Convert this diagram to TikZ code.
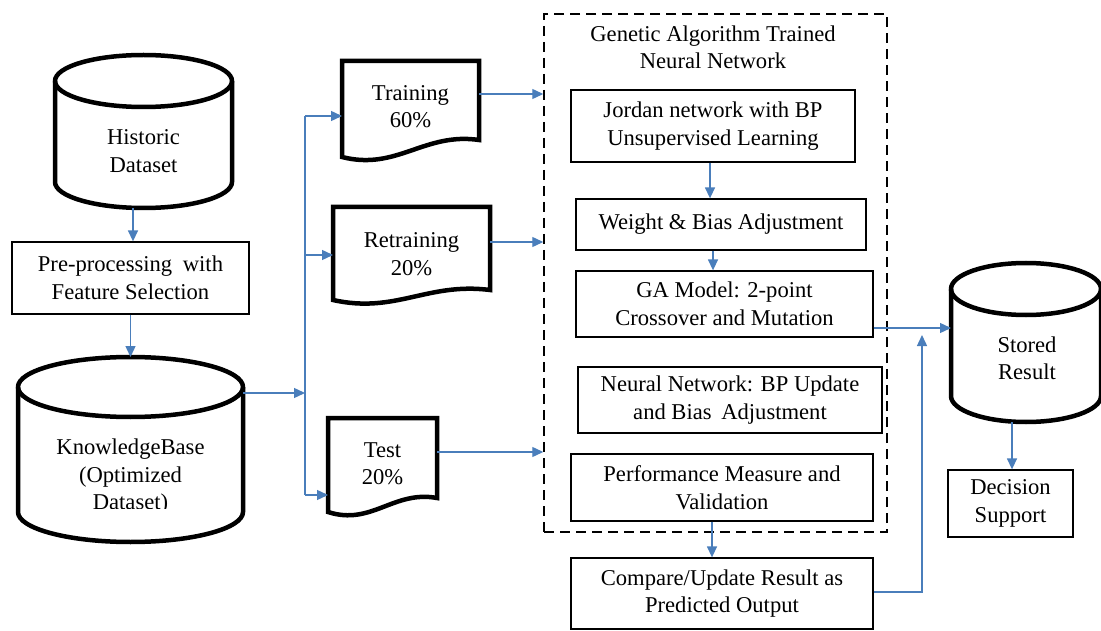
\documentclass[tikz,border=0pt]{standalone}
\usepackage{fontspec}
\setmainfont{Liberation Serif}
\usetikzlibrary{arrows.meta,calc}
\definecolor{arrblue}{HTML}{4A7EBB}
\newcommand\txt{\rmfamily\fontsize{22.6}{27.5}\selectfont}
\newcommand\drawcyl[5]{% cx, top, bottom, rx, ry
  \draw[cylline] ({#1-#4},{-(#2+#5)}) -- ({#1-#4},{-(#3-#5)})
     arc[start angle=180,end angle=360,x radius=#4pt,y radius=#5pt]
     -- ({#1+#4},{-(#2+#5)});
  \draw[cylline] (#1,{-(#2+#5)}) ellipse[x radius=#4pt,y radius=#5pt];
}
\newcommand\docshape[2]{% node name, drop of left corner
  \draw[docline] ($(#1.south west)+(0,-#2)$) -- (#1.north west) -- (#1.north east) -- (#1.south east)
    .. controls ($(#1.south west)!0.6!(#1.south east)+(0,8)$) and ($(#1.south west)!0.4!(#1.south east)+(0,{-#2-14})$) .. cycle;
}
\tikzset{
  arr/.style={draw=arrblue, line width=1.4pt, -{Triangle[length=11pt,width=10pt]}},
  link/.style={draw=arrblue, line width=1.4pt},
  box/.style={draw, line width=1.3pt, inner sep=0pt, align=center, font=\txt},
  ghost/.style={inner sep=0pt, outer sep=0pt},
  lbl/.style={align=center, font=\txt, inner sep=0pt},
  cylline/.style={line width=4.5pt, line join=round},
  docline/.style={line width=4.5pt, line join=miter},
  dashbox/.style={draw, line width=1.5pt, dash pattern=on 10pt off 6pt, inner sep=0pt}
}
\begin{document}
\begin{tikzpicture}[x=1pt,y=1pt]
\useasboundingbox (0,0) rectangle (1101,-631);

% ---------- left column ----------
\node[ghost, minimum width=177pt, minimum height=153pt] (hist) at (143.5,-131.5) {};
\drawcyl{143.5}{55}{208}{88.5}{26}
\node[lbl] (histtxt) at (143.5,-151) {Historic\\Dataset};

\node[box, minimum width=237pt, minimum height=72pt] (pre) at (130.5,-278) {Pre-processing\hspace{5pt} with\\Feature Selection};

\node[ghost, minimum width=225pt, minimum height=185pt] (kb) at (130.5,-449.5) {};
\drawcyl{130.5}{357}{542}{112.5}{30}
\begin{scope}
  \clip (0,0) rectangle (1101,-508);
  \node[lbl] (kbtxt) at (130.5,-477) {KnowledgeBase\\(Optimized\\Dataset)};
\end{scope}

% ---------- data splits ----------
\node[ghost, minimum width=137pt, minimum height=79pt] (train) at (410.5,-100.5) {};
\docshape{train}{17}
\node[lbl] at (410.5,-106.5) {Training\\60\%};

\node[ghost, minimum width=157pt, minimum height=83pt] (retrain) at (411.5,-248.5) {};
\docshape{retrain}{10}
\node[lbl] at (411.5,-254) {Retraining\\20\%};

\node[ghost, minimum width=109pt, minimum height=80pt] (test) at (382.5,-458) {};
\docshape{test}{14}
\node[lbl] at (382.5,-463.5) {Test\\20\%};

% ---------- GA trained NN ----------
\node[dashbox, minimum width=343pt, minimum height=518pt] (nn) at (715.5,-273) {};
\node[lbl] (nntitle) at (713,-47.5) {Genetic Algorithm Trained\\Neural Network};

\node[box, minimum width=284pt, minimum height=72pt] (jordan) at (713,-126) {Jordan network with BP\\Unsupervised Learning};
\node[box, minimum width=290pt, minimum height=51pt] (weight) at (721,-224.5) {Weight \& Bias Adjustment};
\node[box, minimum width=297pt, minimum height=66pt] (gam) at (724.5,-304) {GA Model: 2-point\\Crossover and Mutation};
\node[box, minimum width=304pt, minimum height=66pt] (nnb) at (730,-400) {Neural Network: BP Update\\and Bias\hspace{4pt} Adjustment};
\node[box, minimum width=302pt, minimum height=67pt] (perf) at (722,-487.5) {Performance Measure and\\Validation};
\node[box, minimum width=302pt, minimum height=71pt] (cmp) at (722,-593.5) {Compare/Update Result as\\Predicted Output};

% ---------- right ----------
\node[ghost, minimum width=150pt, minimum height=159pt] (stored) at (1026,-342.5) {};
\drawcyl{1026}{263}{422}{75}{26}
\node[lbl] at (1027,-358.5) {Stored\\Result};

\node[box, minimum width=125pt, minimum height=67pt] (dec) at (1010.5,-503.5) {Decision\\Support};

% ---------- connectors ----------
\coordinate (jt) at (305,-116);
\coordinate (jr) at (305,-255);
\coordinate (jk) at (305,-393);
\coordinate (jb) at (305,-495);
\coordinate (elbow) at (922,-592);
\coordinate (elbowtop) at (922,-335);

\draw[arr] ([xshift=-10.5pt]hist.south) -- ([xshift=-10.5pt]hist.south |- pre.north);
\draw[arr] (pre.south) -- (pre.south |- kb.north);
\draw[arr] (jk -| kb.east) -- (jk);
\draw[link] (jt) -- (jb);
\draw[arr] (jt) -- (jt -| train.west);
\draw[arr] (jr) -- (jr -| retrain.west);
\draw[arr] (jb) -- (jb -| test.west);

\draw[arr] ([yshift=6.5pt]train.east) -- ([yshift=6.5pt]train.east -| nn.west);
\draw[arr] ([yshift=6.5pt]retrain.east) -- ([yshift=6.5pt]retrain.east -| nn.west);
\draw[arr] ([yshift=6pt]test.east) -- ([yshift=6pt]test.east -| nn.west);

\draw[arr] ([xshift=-3pt]jordan.south) -- ([xshift=-3pt]jordan.south |- weight.north);
\draw[arr] ([xshift=-8pt]weight.south) -- ([xshift=-8pt]weight.south |- gam.north);
\draw[arr] ([xshift=-10pt]perf.south) -- ([xshift=-10pt]perf.south |- cmp.north);

\draw[arr] ([yshift=-24pt]gam.east) -- ([yshift=-24pt]gam.east -| stored.west);
\draw[arr] (cmp.east |- elbow) -- (elbow) -- (elbowtop);
\draw[arr] ([xshift=-14pt]stored.south) -- ([xshift=-14pt]stored.south |- dec.north);
\end{tikzpicture}
\end{document}
